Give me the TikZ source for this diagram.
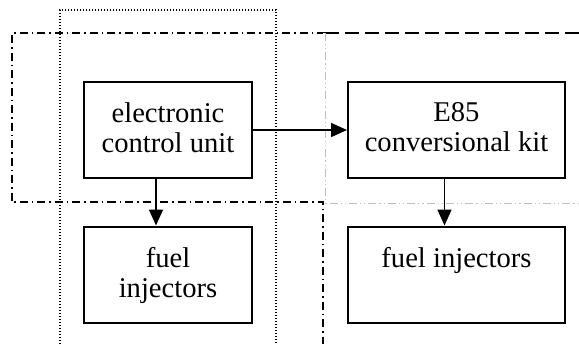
\documentclass[tikz,border=0pt]{standalone}
\usepackage{fontspec}
\setmainfont{Liberation Serif}
\usepackage{tikz}
\usetikzlibrary{arrows.meta, positioning}

\begin{document}
\begin{tikzpicture}[x=0.5pt, y=-0.5pt, >={Triangle[length=8pt, width=7pt]},
    unitbox/.style={draw, line width=1pt, minimum height=48pt, inner sep=0pt},
    boxtext/.style={anchor=north, inner sep=0pt, align=center,
        font=\rmfamily\fontsize{14.3}{15}\selectfont},
    arr/.style={->, line width=0.8pt},
    cellbox/.style={line width=0.8pt, dash pattern=on 4pt off 2pt on 0.75pt off 2pt},
    longdash/.style={line width=1pt, dash pattern=on 7pt off 3pt},
    greyline/.style={draw=gray!50, line width=0.45pt, double=white, double distance=0.6pt,
        dash pattern=on 4pt off 1.5pt on 0.6pt off 1.5pt on 0.6pt off 1.5pt},
    dotline/.style={line width=0.8pt, dash pattern=on 0.5pt off 1pt}]
    \useasboundingbox (0,0) rectangle (579,344);

    % cell borders
    \draw[dotline] (60,344) -- (60,10) -- (276,10) -- (276,344);
    \draw[cellbox] (325,33) -- (12,33) -- (12,202) -- (323,202) -- (323,344);
    \draw[longdash] (325,33) -- (579,33);
    \draw[greyline] (324,33) -- (324,202) -- (579,202);

    % blocks
    \node[unitbox, minimum width=84pt] (ecu) at (168,130) {};
    \node[unitbox, minimum width=108.5pt] (kit) at (456.5,130) {};
    \node[unitbox, minimum width=84pt] (injl) at (168,274.5) {};
    \node[unitbox, minimum width=108.5pt] (injr) at (456.5,274.5) {};

    \node[boxtext] (ecutext) at ([yshift=-10.5pt]ecu.north) {electronic\\control unit};
    \node[boxtext] (kittext) at ([yshift=-10.5pt]kit.north) {E85\\conversional kit};
    \node[boxtext] (injltext) at ([yshift=-10.5pt]injl.north) {fuel\\injectors};
    \node[boxtext] (injrtext) at ([yshift=-10.5pt]injr.north) {fuel injectors};

    \draw[arr] (ecu) -- (kit);
    \draw[arr] ([xshift=-6pt]ecu.south) -- ([xshift=-6pt]injl.north);
    \draw[arr] ([xshift=-6pt]kit.south) -- ([xshift=-6pt]injr.north);
\end{tikzpicture}
\end{document}
